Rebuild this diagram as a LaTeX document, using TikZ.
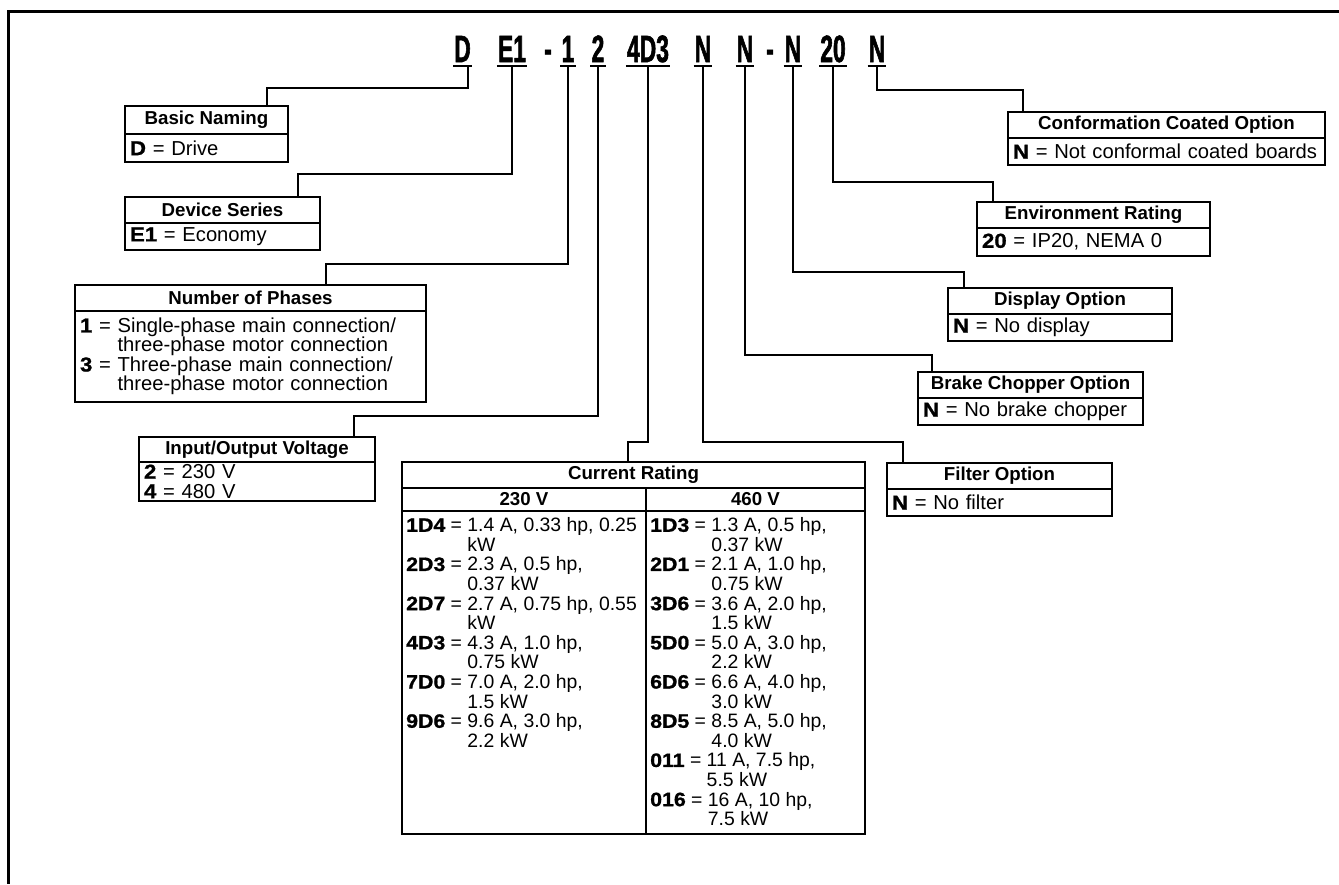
\documentclass[tikz,border=0pt]{standalone}
\usepackage{fontspec}
\setmainfont{Liberation Sans}
\newfontfamily\codefont[FakeStretch=0.6,FakeBold=1.5]{Liberation Sans}
\newfontfamily\heavyfont[FakeStretch=1.1,FakeBold=1]{Liberation Sans}
\newcommand{\crl}[2]{{\heavyfont\bfseries #1} = #2}
\newcommand{\crc}[2]{\hphantom{{\heavyfont\bfseries #1} = }#2}
\begin{document}
\begin{tikzpicture}[x=1pt,y=-1pt,
  hdr/.style={draw, line width=2pt, inner sep=0pt, font=\fontsize{18.7}{20}\selectfont\bfseries},
  bdy/.style={draw, line width=2pt, inner xsep=5pt, inner ysep=0pt, align=left, font=\fontsize{20.2}{19.5}\selectfont},
  colbox/.style={draw, line width=2pt, inner sep=0pt},
  crtext/.style={inner sep=0pt, align=left, anchor=north west, font=\fontsize{19.4}{19.6}\selectfont},
  code/.style={inner sep=0pt, anchor=base, font=\codefont\fontsize{38}{40}\selectfont\bfseries},
  conn/.style={line width=2pt},
  uline/.style={line width=2.5pt},
  frame/.style={line width=3pt}]
\useasboundingbox (0,0) rectangle (1339,884);
\draw[frame] (1339,11) -- (8,11) -- (8,884);

% code line
\coordinate (ul) at (0,66);
\node[code] (cD) at (462.5,62) {D};
\node[code] (cE) at (512,62) {E1};
\node[code] (cd1) at (548,62) {-};
\node[code] (c1) at (568,62) {1};
\node[code] (c2) at (598,62) {2};
\node[code] (c4) at (648,62) {4D3};
\node[code] (cN1) at (703,62) {N};
\node[code] (cN2) at (745,62) {N};
\node[code] (cd2) at (770,62) {-};
\node[code] (cN3) at (793,62) {N};
\node[code] (c20) at (833,62) {20};
\node[code] (cN5) at (877,62) {N};
\foreach \n in {cD,cE,c1,c2,c4,cN1,cN2,cN3,c20,cN5}
  \draw[uline] ([xshift=-1pt]\n.west |- ul) -- ([xshift=1pt]\n.east |- ul);

% option boxes
\node[hdr, minimum width=163pt, minimum height=28pt] (bnh) at (206.5,120) {Basic Naming};
\node[bdy, minimum width=163pt, minimum height=28pt, text width=153pt] (bnb) at (206.5,148) {\crl{D}{Drive}};

\node[hdr, minimum width=195pt, minimum height=26pt] (dsh) at (222.5,210) {Device Series};
\node[bdy, minimum width=195pt, minimum height=27pt, text width=185pt] (dsb) at (222.5,236.5) {\crl{E1}{Economy}};

\node[hdr, minimum width=351pt, minimum height=26pt] (nph) at (250.5,298) {Number of Phases};
\node[bdy, minimum width=351pt, minimum height=91pt, text width=341pt] (npb) at (250.5,356.5)
  {\crl{1}{Single-phase main connection/}\\\crc{1}{three-phase motor connection}\\\crl{3}{Three-phase main connection/}\\\crc{3}{three-phase motor connection}};

\node[hdr, minimum width=236pt, minimum height=25pt] (ioh) at (257,449.5) {Input/Output Voltage};
\node[bdy, minimum width=236pt, minimum height=39pt, text width=226pt] (iob) at (257,481.5) {\crl{2}{230 V}\\\crl{4}{480 V}};

\node[hdr, minimum width=225pt, minimum height=26pt] (fih) at (999.5,476) {Filter Option};
\node[bdy, minimum width=225pt, minimum height=27pt, text width=215pt] (fib) at (999.5,502.5) {\crl{N}{No filter}};

\node[hdr, minimum width=225pt, minimum height=26pt] (brh) at (1030.5,385) {Brake Chopper Option};
\node[bdy, minimum width=225pt, minimum height=27pt, text width=215pt] (brb) at (1030.5,411.5) {\crl{N}{No brake chopper}};

\node[hdr, minimum width=224pt, minimum height=26pt] (dih) at (1060,301) {Display Option};
\node[bdy, minimum width=224pt, minimum height=27pt, text width=214pt] (dib) at (1060,327.5) {\crl{N}{No display}};

\node[hdr, minimum width=233pt, minimum height=26pt] (enh) at (1093.5,215) {Environment Rating};
\node[bdy, minimum width=233pt, minimum height=28pt, text width=223pt] (enb) at (1093.5,242) {\crl{20}{IP20, NEMA 0}};

\node[hdr, minimum width=317pt, minimum height=26pt] (coh) at (1166.5,125) {Conformation Coated Option};
\node[bdy, minimum width=317pt, minimum height=27pt, text width=307pt] (cob) at (1166.5,151.5) {\crl{N}{Not conformal coated boards}};

% current rating table
\node[hdr, minimum width=463pt, minimum height=26pt] (crh) at (633.5,475) {Current Rating};
\node[hdr, minimum width=244pt, minimum height=23pt] (cra) at (524,499.5) {230 V};
\node[hdr, minimum width=219pt, minimum height=23pt] (crb) at (755.5,499.5) {460 V};
\node[colbox, minimum width=244pt, minimum height=323pt] (crab) at (524,672.5) {};
\node[colbox, minimum width=219pt, minimum height=323pt] (crbb) at (755.5,672.5) {};
\node[crtext] (crat) at ([xshift=5pt,yshift=-7.5pt]crab.north west) {%
\crl{1D4}{1.4 A, 0.33 hp, 0.25}\\\crc{1D4}{kW}\\
\crl{2D3}{2.3 A, 0.5 hp,}\\\crc{2D3}{0.37 kW}\\
\crl{2D7}{2.7 A, 0.75 hp, 0.55}\\\crc{2D7}{kW}\\
\crl{4D3}{4.3 A, 1.0 hp,}\\\crc{4D3}{0.75 kW}\\
\crl{7D0}{7.0 A, 2.0 hp,}\\\crc{7D0}{1.5 kW}\\
\crl{9D6}{9.6 A, 3.0 hp,}\\\crc{9D6}{2.2 kW}};
\node[crtext] (crbt) at ([xshift=5pt,yshift=-7.5pt]crbb.north west) {%
\crl{1D3}{1.3 A, 0.5 hp,}\\\crc{1D3}{0.37 kW}\\
\crl{2D1}{2.1 A, 1.0 hp,}\\\crc{2D1}{0.75 kW}\\
\crl{3D6}{3.6 A, 2.0 hp,}\\\crc{3D6}{1.5 kW}\\
\crl{5D0}{5.0 A, 3.0 hp,}\\\crc{5D0}{2.2 kW}\\
\crl{6D6}{6.6 A, 4.0 hp,}\\\crc{6D6}{3.0 kW}\\
\crl{8D5}{8.5 A, 5.0 hp,}\\\crc{8D5}{4.0 kW}\\
\crl{011}{11 A, 7.5 hp,}\\\crc{011}{5.5 kW}\\
\crl{016}{16 A, 10 hp,}\\\crc{016}{7.5 kW}};

% connectors
\draw[conn] ([xshift=-3pt]cD.east |- ul) -- ++(0,22) -| ([xshift=60.5pt]bnh.north);
\draw[conn] (cE |- ul) -- ++(0,108) -| ([xshift=75.5pt]dsh.north);
\draw[conn] (c1 |- ul) -- ++(0,198) -| ([xshift=75.5pt]nph.north);
\draw[conn] (c2 |- ul) -- ++(0,350) -| ([xshift=97pt]ioh.north);
\draw[conn] (c4 |- ul) -- ++(0,376) -| ([xshift=-5.5pt]crh.north);
\draw[conn] (cN1 |- ul) -- ++(0,376) -| ([xshift=-96.5pt]fih.north);
\draw[conn] (cN2 |- ul) -- ++(0,289) -| ([xshift=-98.5pt]brh.north);
\draw[conn] (cN3 |- ul) -- ++(0,206) -| ([xshift=-96pt]dih.north);
\draw[conn] (c20 |- ul) -- ++(0,116) -| ([xshift=-100.5pt]enh.north);
\draw[conn] (cN5 |- ul) -- ++(0,24) -| ([xshift=-143.5pt]coh.north);
\end{tikzpicture}
\end{document}
